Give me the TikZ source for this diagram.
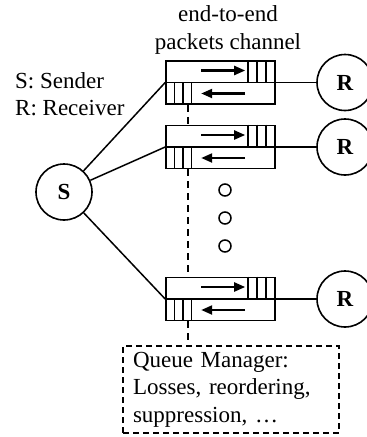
\documentclass[tikz,border=0pt]{standalone}
\usepackage{fontspec}
\setmainfont{Liberation Serif}
\usetikzlibrary{arrows.meta,calc}
\begin{document}
\begin{tikzpicture}[x=1pt,y=-1pt,
  txt/.style={font=\fontsize{23}{27.5}\selectfont, inner sep=0pt},
  endpoint/.style={circle, draw, line width=1.6pt, minimum size=56pt, inner sep=0pt,
    font=\fontsize{23}{27.5}\selectfont\bfseries},
  chan/.style={draw, line width=1.6pt, minimum width=109pt, minimum height=43pt, inner sep=0pt},
  dotmark/.style={circle, draw, line width=1.5pt, minimum size=12pt, inner sep=0pt},
  link/.style={line width=1.5pt},
  bar/.style={line width=1.5pt},
  flow/.style={line width=2.2pt, -{Triangle[length=11pt,width=9pt]}},
  dashline/.style={line width=1.5pt, dash pattern=on 7pt off 5pt},
  mgr/.style={draw, line width=1.5pt, dash pattern=on 6pt off 4pt,
    minimum width=216pt, minimum height=87pt, inner sep=0pt,
    text width=196pt, align=left, font=\fontsize{23}{27.5}\selectfont}]
\useasboundingbox (0,0) rectangle (367,437);
\clip (0,0) rectangle (367,437);

% labels
\node[txt, align=center] (title) at (228,30) {end-to-end\\packets channel};
\node[txt, align=left, anchor=west] (legend) at (15,94) {S: Sender\\R: Receiver};

% channels
\node[chan] (c1) at (220.5,82.5) {};
\node[chan] (c2) at (220.5,147) {};
\node[chan] (c3) at (220.5,299) {};

\foreach \c in {c1,c2,c3}{
  \draw[bar] (\c.west) -- (\c.east);
  \foreach \dx in {-28,-19,-10}
    \draw[bar] ($(\c.north east)+(\dx,0)$) -- ($(\c.east)+(\dx,0)$);
  \foreach \dx in {9.5,18,26.5}
    \draw[bar] ($(\c.west)+(\dx,0)$) -- ($(\c.south west)+(\dx,0)$);
  \draw[flow] ($(\c.west)+(36,-12)$) -- ($(\c.west)+(80,-12)$);
  \draw[flow] ($(\c.west)+(80,11)$) -- ($(\c.west)+(36,11)$);
}

% end points
\node[endpoint] (s) at (64,192) {S};
\node[endpoint] (r1) at (345,82.5) {R};
\node[endpoint] (r2) at (345,147) {R};
\node[endpoint] (r3) at (345,299) {R};

\draw[link] (s) -- (c1.west);
\draw[link] (s) -- (c2.west);
\draw[link] (s) -- (c3.west);
\draw[link] (c1.east) -- (r1);
\draw[link] (c2.east) -- (r2);
\draw[link] (c3.east) -- (r3);

% more channels
\node[dotmark] (d1) at (225,190) {};
\node[dotmark] (d2) at (225,218) {};
\node[dotmark] (d3) at (225,246) {};

% queue manager
\node[mgr] (qm) at (231,389.5) {Queue Manager:\\Losses, reordering,\\suppression, \ldots};

\coordinate (xline) at (188,0);
\draw[dashline] (c1.south -| xline) -- (c2.north -| xline);
\draw[dashline] (c2.south -| xline) -- (c3.north -| xline);
\draw[dashline] (c3.south -| xline) -- (qm.north -| xline);
\end{tikzpicture}
\end{document}
